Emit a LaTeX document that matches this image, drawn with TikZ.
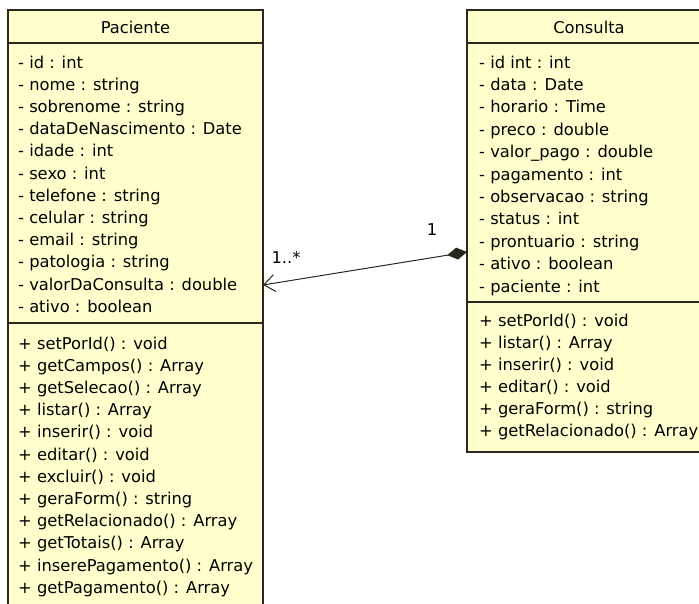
\documentclass[tikz,border=0pt]{standalone}
\usepackage{fontspec}
\setmainfont{DejaVu Sans}
\usetikzlibrary{arrows.meta}
\definecolor{umlfill}{RGB}{255,255,206}
\definecolor{umlline}{RGB}{40,40,30}

\begin{document}
\begin{tikzpicture}[x=1pt,y=-1pt,
  member/.style={anchor=base west,inner sep=0pt,font=\fontsize{16.3}{18}\selectfont},
  classname/.style={anchor=base,inner sep=0pt,font=\fontsize{16.3}{18}\selectfont},
  classbox/.style={draw=umlline,fill=umlfill,line width=1.4pt}]
  \useasboundingbox (0,0) rectangle (699,603);
  \clip (0,0) rectangle (699,603);

  % class boxes
  \draw[classbox] (8,10) rectangle (263,625);
  \draw[umlline,line width=1.4pt] (8,43) -- (263,43);
  \draw[umlline,line width=1.4pt] (8,323) -- (263,323);

  \draw[classbox] (467,10) rectangle (712,452);
  \draw[umlline,line width=1.4pt] (467,43) -- (712,43);
  \draw[umlline,line width=1.4pt] (467,302) -- (712,302);

  \node[classname] (paciente) at (135.5,33) {Paciente};
  \node[classname] (consulta) at (589,33) {Consulta};

  % Paciente members
  \foreach \t [count=\i] in {{- id : int},{- nome : string},{- sobrenome : string},
      {- dataDeNascimento : Date},{- idade : int},{- sexo : int},{- telefone : string},
      {- celular : string},{- email : string},{- patologia : string},
      {- valorDaConsulta : double},{- ativo : boolean}}
    \node[member] (pa\i) at (18,{68+(\i-1)*22.2}) {\t};
  \foreach \t [count=\i] in {{+ setPorId() : void},{+ getCampos() : Array},
      {+ getSelecao() : Array},{+ listar() : Array},{+ inserir() : void},
      {+ editar() : void},{+ excluir() : void},{+ geraForm() : string},
      {+ getRelacionado() : Array},{+ getTotais() : Array},
      {+ inserePagamento() : Array},{+ getPagamento() : Array}}
    \node[member] (pm\i) at (18,{349+(\i-1)*22.2}) {\t};

  % Consulta members
  \foreach \t [count=\i] in {{- id int : int},{- data : Date},{- horario : Time},
      {- preco : double},{- valor\_pago : double},{- pagamento : int},
      {- observacao : string},{- status : int},{- prontuario : string},
      {- ativo : boolean},{- paciente : int}}
    \node[member] (ca\i) at (479,{68+(\i-1)*22.4}) {\t};
  \foreach \t [count=\i] in {{+ setPorId() : void},{+ listar() : Array},
      {+ inserir() : void},{+ editar() : void},{+ geraForm() : string},
      {+ getRelacionado() : Array}}
    \node[member] (cm\i) at (479,{326+(\i-1)*22}) {\t};

  % association
  \coordinate (pacR) at (263,285);
  \coordinate (conL) at (467,252);
  \draw[umlline,line width=1pt,
    {Straight Barb[length=11pt,width=17pt]}-{Diamond[length=20pt,width=12pt]}]
    (pacR) -- (conL);
  \node[classname] (multP) at (286,263) {1..*};
  \node[classname] (multC) at (432,235) {1};
\end{tikzpicture}
\end{document}
